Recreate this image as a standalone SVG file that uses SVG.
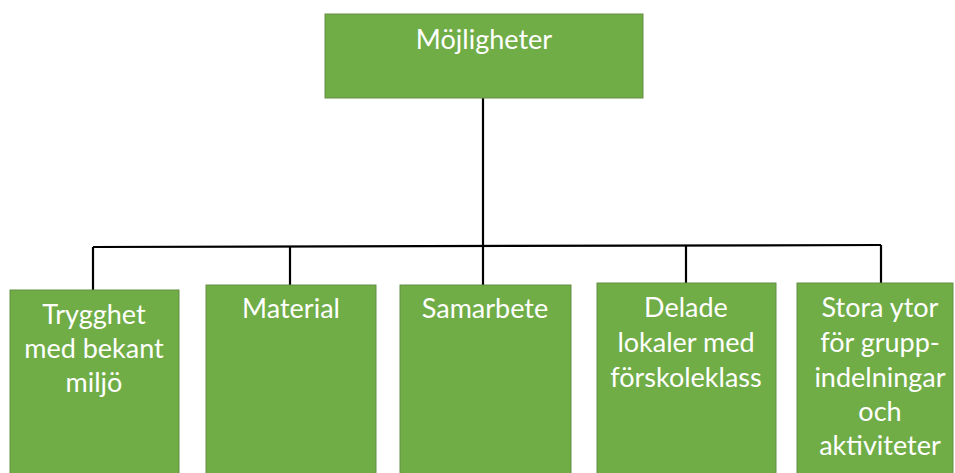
<svg xmlns="http://www.w3.org/2000/svg" width="955" height="473" viewBox="0 0 955 473">
<style>
.box{fill:#70ad47;stroke:#638f45;stroke-width:1}
.t{font-family:Lato,"Open Sans",sans-serif;font-size:27px;fill:#ffffff;text-anchor:middle}
.c{stroke:#000;stroke-width:2.2;fill:none}
</style>
<rect width="955" height="473" fill="#ffffff"/>
<g id="connectors">
<path class="c" d="M483 98 V285"/>
<path class="c" d="M93 247 L881 245"/>
<path class="c" d="M93 247 V290"/>
<path class="c" d="M290 246 V285"/>
<path class="c" d="M686 245 V283"/>
<path class="c" d="M881 245 V283"/>
</g>
<g id="root">
<rect class="box" x="325" y="14" width="318" height="84"/>
<text class="t" x="484" y="49">Möjligheter</text>
</g>
<g id="n1">
<rect class="box" x="10" y="290" width="169" height="190"/>
<text class="t" x="94" y="324">Trygghet</text>
<text class="t" x="94" y="358">med bekant</text>
<text class="t" x="94" y="392">miljö</text>
</g>
<g id="n2">
<rect class="box" x="206" y="285" width="170" height="195"/>
<text class="t" x="291" y="318">Material</text>
</g>
<g id="n3">
<rect class="box" x="400" y="285" width="171" height="195"/>
<text class="t" x="485" y="318">Samarbete</text>
</g>
<g id="n4">
<rect class="box" x="597" y="283" width="179" height="197"/>
<text class="t" x="686" y="317">Delade</text>
<text class="t" x="686" y="352">lokaler med</text>
<text class="t" x="686" y="387">förskoleklass</text>
</g>
<g id="n5">
<rect class="box" x="797" y="283" width="156" height="197"/>
<text class="t" x="880" y="317">Stora ytor</text>
<text class="t" x="880" y="352">för grupp-</text>
<text class="t" x="880" y="387">indelningar</text>
<text class="t" x="880" y="421">och</text>
<text class="t" x="880" y="455">aktiviteter</text>
</g>
</svg>
